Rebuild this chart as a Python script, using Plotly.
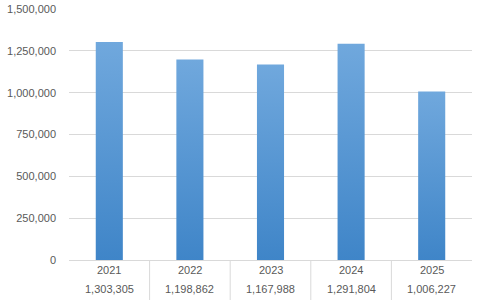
import plotly.graph_objects as go

years = ["2021", "2022", "2023", "2024", "2025"]
values = [1303305, 1198862, 1167988, 1291804, 1006227]
y_ticks = [0, 250000, 500000, 750000, 1000000, 1250000, 1500000]

font_family = "Liberation Sans, Arial, sans-serif"
text_color = "#595959"
grid_color = "#D9D9D9"
half_w = 0.168  # bar half-width in category units

fig = go.Figure()
for i, v in enumerate(values):
    fig.add_trace(go.Scatter(
        x=[i - half_w, i + half_w, i + half_w, i - half_w, i - half_w],
        y=[0, 0, v, v, 0],
        mode="lines", line=dict(width=0, color="rgba(0,0,0,0)"),
        fill="toself",
        fillgradient=dict(type="vertical",
                          colorscale=[[0, "#3F85C8"], [1, "#70A8DD"]]),
        hoverinfo="skip",
    ))

# table-like labels below the axis
for i, (yr, v) in enumerate(zip(years, values)):
    fig.add_annotation(x=i, y=0, xref="x", yref="paper", text=yr, showarrow=False,
                       yshift=-10, yanchor="middle",
                       font=dict(family=font_family, size=11, color=text_color))
    fig.add_annotation(x=i, y=0, xref="x", yref="paper", text=f"{v:,}", showarrow=False,
                       yshift=-29, yanchor="middle",
                       font=dict(family=font_family, size=11, color=text_color))
for i in range(len(years) - 1):
    fig.add_shape(type="line", xref="x", yref="paper", x0=i + 0.5, x1=i + 0.5,
                  y0=0, y1=-0.16, line=dict(color=grid_color, width=1))

fig.update_layout(
    width=480, height=300,
    margin=dict(l=69, r=8, t=9, b=40, autoexpand=False),
    paper_bgcolor="white", plot_bgcolor="white",
    showlegend=False,
    font=dict(family=font_family, size=11, color=text_color),
)
fig.update_xaxes(range=[-0.5, len(years) - 0.5], showticklabels=False, showgrid=False,
                 zeroline=False, showline=False, ticks="", automargin=False)
fig.update_yaxes(range=[0, 1500000], tickvals=y_ticks,
                 ticktext=[f"{t:,}" for t in y_ticks],
                 showgrid=True, gridcolor=grid_color, gridwidth=1,
                 zeroline=True, zerolinecolor=grid_color, zerolinewidth=1,
                 showline=False, ticks="", ticklabelstandoff=12, automargin=False)

fig.write_html("out.html")
